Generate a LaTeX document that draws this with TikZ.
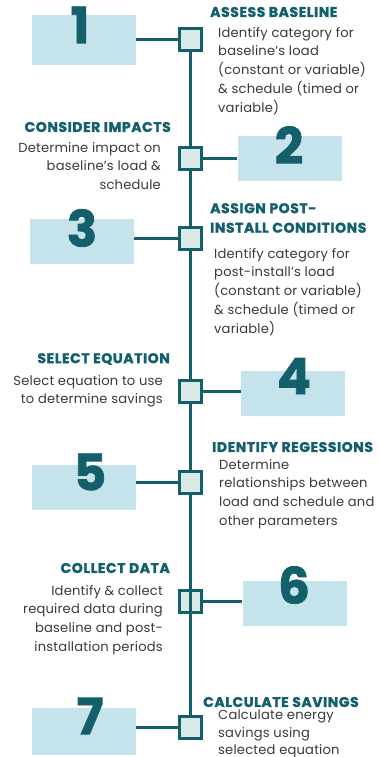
\documentclass[tikz,border=0pt]{standalone}
\usepackage{fontspec}
\setmainfont{Poppins}[LetterSpace=1.5]
\newfontfamily\heavyfont{Poppins}[LetterSpace=4,BoldFeatures={FakeBold=1.5}]
\usetikzlibrary{positioning}
\definecolor{darkteal}{HTML}{135F6B}
\definecolor{panelblue}{HTML}{C4E3EA}
\definecolor{boxfill}{HTML}{D9E9E8}
\definecolor{textgray}{HTML}{3A3A3A}

\begin{document}
\begin{tikzpicture}[x=1pt,y=-1pt]
\tikzstyle{stepmark}=[draw=darkteal,fill=boxfill,line width=3pt,minimum size=22pt,inner sep=0pt]
\tikzstyle{panel}=[fill=panelblue,minimum width=104pt,minimum height=45pt,inner sep=0pt]
\tikzstyle{digit}=[text=darkteal,inner sep=0pt,font=\heavyfont\bfseries\fontsize{50}{50}\selectfont]
\tikzstyle{title}=[text=darkteal,inner sep=0pt,font=\heavyfont\bfseries\fontsize{14}{19.5}\selectfont]
\tikzstyle{body}=[text=textgray,inner sep=0pt,font=\fontsize{13.1}{18.7}\selectfont]
\tikzstyle{link}=[-,darkteal,line width=3pt]

\useasboundingbox (0,0) rectangle (379,757);

% number panels
\node[panel,minimum height=50pt] (p1) at (84,40) {};
\node[panel] (p2) at (289.5,158.5) {};
\node[panel] (p3) at (81.5,241) {};
\node[panel] (p4) at (293,393) {};
\node[panel] (p5) at (84,487) {};
\node[panel] (p6) at (294.5,603) {};
\node[panel,minimum height=47pt] (p7) at (84,731.5) {};

\node[digit] (n1) at (80,25) {1};
\node[digit] (n2) at (289,145) {2};
\node[digit] (n3) at (82,228) {3};
\node[digit] (n4) at (294,376) {4};
\node[digit] (n5) at (90,472) {5};
\node[digit] (n6) at (294,585) {6};
\node[digit] (n7) at (90,716) {7};

% timeline
\node[stepmark] (b1) at (190,40) {};
\node[stepmark] (b2) at (190,158) {};
\node[stepmark] (b3) at (190,238) {};
\node[stepmark] (b4) at (190,391) {};
\node[stepmark] (b5) at (190,482) {};
\node[stepmark] (b6) at (190,601) {};
\node[stepmark] (b7) at (190,727) {};

\foreach \a/\b in {b1/b2,b2/b3,b3/b4,b4/b5,b5/b6,b6/b7}
  \draw[link] (\a) -- (\b);
\draw[link] (b6.north) -- (b6.south);

\draw[link] (b1.west) -- (b1.west -| p1.east);
\draw[link] (b2.east) -- (b2.east -| p2.west);
\draw[link] (b3.west) -- (b3.west -| p3.east);
\draw[link] (b4.east) -- (b4.east -| p4.west);
\draw[link] (b5.west) -- (b5.west -| p5.east);
\draw[link] (b6.east) -- (b6.east -| p6.west);
\draw[link] (b7.west) -- (b7.west -| p7.east);

% step texts
\node[title,anchor=west] (t1) at (210,12) {ASSESS BASELINE};
\node[body,anchor=north west,align=left] (d1) at (218,27)
  {Identify category for\\baseline’s load\\(constant or variable)\\\& schedule (timed or\\variable)};

\node[title,anchor=east] (t2) at (171,127) {CONSIDER IMPACTS};
\node[body,anchor=north east,align=right] (d2) at (161,142)
  {Determine impact on\\baseline’s load \&\\schedule};

\node[title,anchor=north west,align=left] (t3) at (210,203) {ASSIGN POST-\\INSTALL CONDITIONS};
\node[body,anchor=north west,align=left] (d3) at (214,248)
  {Identify category for\\post-install’s load\\(constant or variable)\\\& schedule (timed or\\variable)};

\node[title,anchor=east] (t4) at (170,359) {SELECT EQUATION};
\node[body,anchor=north east,align=right] (d4) at (163,375)
  {Select equation to use\\to determine savings};

\node[title,anchor=west] (t5) at (212,447) {IDENTIFY REGESSIONS};
\node[body,anchor=north west,align=left] (d5) at (219,459)
  {Determine\\relationships between\\load and schedule and\\other parameters};

\node[title,anchor=east] (t6) at (170,568) {COLLECT DATA};
\node[body,anchor=north east,align=right] (d6) at (163,585)
  {Identify \& collect\\required data during\\baseline and post-\\installation periods};

\node[title,anchor=west] (t7) at (203,702) {CALCULATE SAVINGS};
\node[body,anchor=north west,align=left,font=\fontsize{13.1}{17.5}\selectfont] (d7) at (218,710)
  {Calculate energy\\savings using\\selected equation};
\end{tikzpicture}
\end{document}
